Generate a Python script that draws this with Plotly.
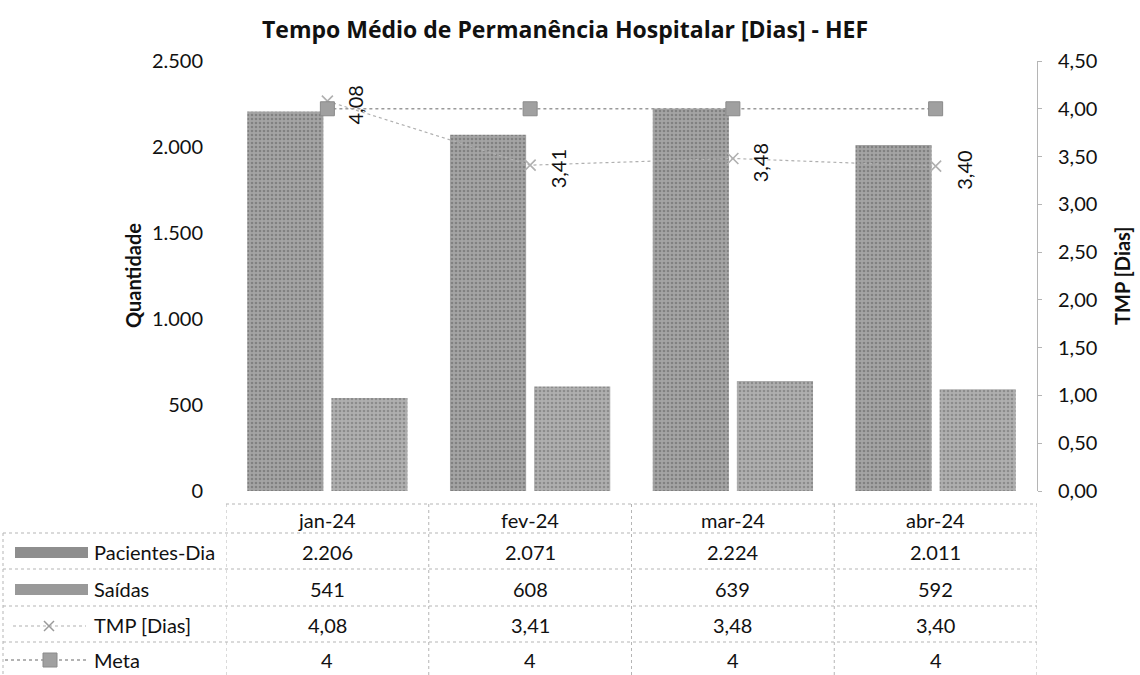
import plotly.graph_objects as go

# ---------------- data ----------------
months = ["jan-24", "fev-24", "mar-24", "abr-24"]
pacientes_dia = [2206, 2071, 2224, 2011]
saidas = [541, 608, 639, 592]
tmp_dias = [4.08, 3.41, 3.48, 3.40]
meta = [4, 4, 4, 4]
row_names = ["Pacientes-Dia", "Saídas", "TMP [Dias]", "Meta"]
title_text = "Tempo Médio de Permanência Hospitalar [Dias] - HEF"

# ---------------- geometry (pixels) ----------------
W, H = 1140, 675
L, R, T, B = 226, 1037, 61, 491
FONT = "Lato"
TFONT = "Open Sans"
TXT = "#111111"
GRID = "#b5b5b5"
FS = 20


def px_x(px):
    return (px - L) / (R - L)


def px_y(py):
    return (B - py) / (B - T)


def fmt_int(v):
    return f"{v:,}".replace(",", ".")


def fmt_dec(v):
    return f"{v:.2f}".replace(".", ",")


fig = go.Figure()

fig.add_trace(go.Bar(
    x=months, y=pacientes_dia, name=row_names[0],
    marker=dict(color="#8e8e8e",
                pattern=dict(shape=".", fgcolor="#5e5e5e", bgcolor="#a4a4a4",
                             size=4, solidity=0.35),
                line=dict(width=0)),
))
fig.add_trace(go.Bar(
    x=months, y=saidas, name=row_names[1],
    marker=dict(color="#999999",
                pattern=dict(shape=".", fgcolor="#6a6a6a", bgcolor="#afafaf",
                             size=4, solidity=0.35),
                line=dict(width=0)),
))
fig.add_trace(go.Scatter(
    x=months, y=tmp_dias, name=row_names[2], yaxis="y2", mode="lines+markers",
    line=dict(color="#b0b0b0", width=1.2, dash="dot"),
    marker=dict(symbol="x-thin-open", size=11, line=dict(color="#9a9a9a", width=1.6)),
))
fig.add_trace(go.Scatter(
    x=months, y=meta, name=row_names[3], yaxis="y2", mode="lines+markers",
    line=dict(color="#9a9a9a", width=1.6, dash="dot"),
    marker=dict(symbol="square", size=14, color="#a0a0a0",
                line=dict(color="#8a8a8a", width=1)),
))

annotations = []
shapes = []

# TMP data labels (rotated)
for m, v in zip(months, tmp_dias):
    annotations.append(dict(
        x=m, y=v, xref="x", yref="y2", text=fmt_dec(v), showarrow=False,
        textangle=-90, xshift=28, yshift=-4, xanchor="center", yanchor="middle",
        font=dict(family=FONT, size=FS, color=TXT),
    ))

# axis titles
annotations.append(dict(
    x=px_x(133), y=0.5, xref="paper", yref="paper", text="<b>Quantidade</b>",
    showarrow=False, textangle=-90, xanchor="center", yanchor="middle",
    font=dict(family=FONT, size=FS, color=TXT),
))
annotations.append(dict(
    x=px_x(1122), y=0.5, xref="paper", yref="paper", text="<b>TMP [Dias]</b>",
    showarrow=False, textangle=-90, xanchor="center", yanchor="middle",
    font=dict(family=FONT, size=FS, color=TXT),
))

# ---------------- data table ----------------
header_y = 520
row_y = [552, 589, 625, 660]
table_rows = [
    [fmt_int(v) for v in pacientes_dia],
    [fmt_int(v) for v in saidas],
    [fmt_dec(v) for v in tmp_dias],
    [str(v) for v in meta],
]

for m in months:
    annotations.append(dict(
        x=m, y=px_y(header_y), xref="x", yref="paper", text=m, showarrow=False,
        xanchor="center", yanchor="middle",
        font=dict(family=FONT, size=FS, color=TXT),
    ))
for ry, vals in zip(row_y, table_rows):
    for m, t in zip(months, vals):
        annotations.append(dict(
            x=m, y=px_y(ry), xref="x", yref="paper", text=t, showarrow=False,
            xanchor="center", yanchor="middle",
            font=dict(family=FONT, size=FS, color=TXT),
        ))
for ry, name in zip(row_y, row_names):
    annotations.append(dict(
        x=px_x(92), y=px_y(ry), xref="paper", yref="paper", text=name,
        showarrow=False, xanchor="left", yanchor="middle",
        font=dict(family=FONT, size=FS, color=TXT),
    ))

gl = dict(color=GRID, width=1, dash="dot")
# horizontal grid lines
shapes.append(dict(type="line", xref="paper", yref="paper",
                   x0=px_x(L), x1=px_x(R), y0=px_y(504), y1=px_y(504), line=gl))
for py in [533, 569, 606, 642, 676]:
    shapes.append(dict(type="line", xref="paper", yref="paper",
                       x0=px_x(3), x1=px_x(R), y0=px_y(py), y1=px_y(py), line=gl))
# vertical grid lines (category boundaries)
for i in range(len(months) + 1):
    shapes.append(dict(type="line", xref="x", yref="paper",
                       x0=i - 0.5, x1=i - 0.5, y0=px_y(504), y1=px_y(680), line=gl))
shapes.append(dict(type="line", xref="paper", yref="paper",
                   x0=px_x(3), x1=px_x(3), y0=px_y(533), y1=px_y(680), line=gl))

# legend keys inside table
shapes.append(dict(type="rect", xref="paper", yref="paper",
                   x0=px_x(15), x1=px_x(88), y0=px_y(547), y1=px_y(558),
                   fillcolor="#8e8e8e", line=dict(width=0)))
shapes.append(dict(type="rect", xref="paper", yref="paper",
                   x0=px_x(15), x1=px_x(88), y0=px_y(584), y1=px_y(595),
                   fillcolor="#999999", line=dict(width=0)))
shapes.append(dict(type="line", xref="paper", yref="paper",
                   x0=px_x(13), x1=px_x(86), y0=px_y(626), y1=px_y(626),
                   line=dict(color="#b0b0b0", width=1.2, dash="dot")))
for (a, b) in [((44, 621), (54, 631)), ((44, 631), (54, 621))]:
    shapes.append(dict(type="line", xref="paper", yref="paper",
                       x0=px_x(a[0]), y0=px_y(a[1]), x1=px_x(b[0]), y1=px_y(b[1]),
                       line=dict(color="#9a9a9a", width=1.5)))
shapes.append(dict(type="line", xref="paper", yref="paper",
                   x0=px_x(5), x1=px_x(86), y0=px_y(660), y1=px_y(660),
                   line=dict(color="#9a9a9a", width=1.6, dash="dot")))
shapes.append(dict(type="rect", xref="paper", yref="paper",
                   x0=px_x(43), x1=px_x(57), y0=px_y(653), y1=px_y(667),
                   fillcolor="#a0a0a0", line=dict(color="#8a8a8a", width=1)))

fig.update_layout(
    width=W, height=H,
    margin=dict(l=L, r=W - R, t=T, b=H - B),
    paper_bgcolor="white", plot_bgcolor="white",
    separators=",.",
    showlegend=False,
    barmode="group", bargap=0.17, bargroupgap=0.095,
    title=dict(text=f"<b>{title_text}</b>", x=565 / W, xref="container",
               y=1 - 30 / H, yanchor="middle", xanchor="center",
               font=dict(family=TFONT, size=23, color=TXT)),
    font=dict(family=FONT, size=FS, color=TXT),
    xaxis=dict(range=[-0.5, 3.5], showticklabels=False, showgrid=False,
               zeroline=False, showline=False, ticks=""),
    yaxis=dict(range=[0, 2500], tickvals=[0, 500, 1000, 1500, 2000, 2500],
               tickformat=",d", showgrid=False, zeroline=False, showline=False,
               ticks="", ticklabelstandoff=22,
               tickfont=dict(family=FONT, size=FS, color=TXT)),
    yaxis2=dict(range=[0, 4.5], overlaying="y", side="right",
                tickvals=[0, 0.5, 1, 1.5, 2, 2.5, 3, 3.5, 4, 4.5],
                tickformat=".2f", showgrid=False, zeroline=False,
                showline=True, linecolor=GRID, linewidth=1,
                ticks="outside", ticklen=4, tickcolor=GRID,
                ticklabelstandoff=12,
                tickfont=dict(family=FONT, size=FS, color=TXT)),
    annotations=annotations,
    shapes=shapes,
)

fig.write_html("out.html",
               config={"displayModeBar": False},
               post_script="document.body.style.margin='0px';"
                           "document.body.style.overflow='hidden';")
